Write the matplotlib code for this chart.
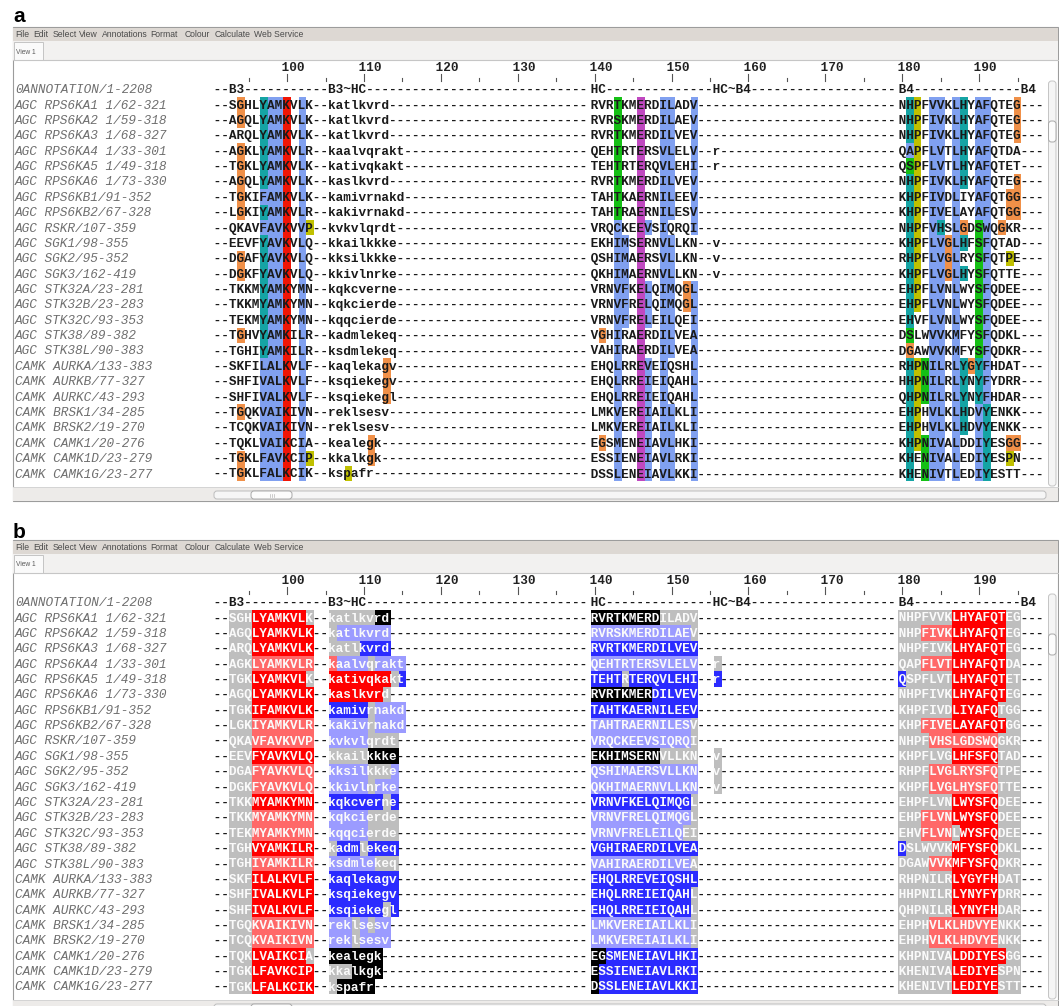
#!/usr/bin/python3

import matplotlib
matplotlib.use('Agg')
import matplotlib.pyplot as plt
from matplotlib.patches import Rectangle, FancyBboxPatch

W, H = 1059, 1006

names = [
    'AGC RPS6KA1 1/62-321', 'AGC RPS6KA2 1/59-318', 'AGC RPS6KA3 1/68-327',
    'AGC RPS6KA4 1/33-301', 'AGC RPS6KA5 1/49-318', 'AGC RPS6KA6 1/73-330',
    'AGC RPS6KB1/91-352', 'AGC RPS6KB2/67-328', 'AGC RSKR/107-359',
    'AGC SGK1/98-355', 'AGC SGK2/95-352', 'AGC SGK3/162-419',
    'AGC STK32A/23-281', 'AGC STK32B/23-283', 'AGC STK32C/93-353',
    'AGC STK38/89-382', 'AGC STK38L/90-383', 'CAMK AURKA/133-383',
    'CAMK AURKB/77-327', 'CAMK AURKC/43-293', 'CAMK BRSK1/34-285',
    'CAMK BRSK2/19-270', 'CAMK CAMK1/20-276', 'CAMK CAMK1D/23-279',
    'CAMK CAMK1G/23-277',
]
annotation_name = '0ANNOTATION/1-2208'

# alignment pieces, starting at column 0, 49 and 89 of the visible window
seg_a = [
    '--SGHLYAMKVLK--katlkvrd', '--AGQLYAMKVLK--katlkvrd', '--ARQLYAMKVLK--katlkvrd',
    '--AGKLYAMKVLR--kaalvqrakt', '--TGKLYAMKVLK--kativqkakt', '--AGQLYAMKVLK--kaslkvrd',
    '--TGKIFAMKVLK--kamivrnakd', '--LGKIYAMKVLR--kakivrnakd', '--QKAVFAVKVVP--kvkvlqrdt',
    '--EEVFYAVKVLQ--kkailkkke', '--DGAFYAVKVLQ--kksilkkke', '--DGKFYAVKVLQ--kkivlnrke',
    '--TKKMYAMKYMN--kqkcverne', '--TKKMYAMKYMN--kqkcierde', '--TEKMYAMKYMN--kqqcierde',
    '--TGHVYAMKILR--kadmlekeq', '--TGHIYAMKILR--ksdmlekeq', '--SKFILALKVLF--kaqlekagv',
    '--SHFIVALKVLF--ksqiekegv', '--SHFIVALKVLF--ksqiekegl', '--TGQKVAIKIVN--reklsesv',
    '--TCQKVAIKIVN--reklsesv', '--TQKLVAIKCIA--kealegk', '--TGKLFAVKCIP--kkalkgk',
    '--TGKLFALKCIK--kspafr',
]
seg_b = [
    'RVRTKMERDILADV', 'RVRSKMERDILAEV', 'RVRTKMERDILVEV', 'QEHTRTERSVLELV--r',
    'TEHTRTERQVLEHI--r', 'RVRTKMERDILVEV', 'TAHTKAERNILEEV', 'TAHTRAERNILESV',
    'VRQCKEEVSIQRQI', 'EKHIMSERNVLLKN--v', 'QSHIMAERSVLLKN--v', 'QKHIMAERNVLLKN--v',
    'VRNVFKELQIMQGL', 'VRNVFRELQIMQGL', 'VRNVFRELEILQEI', 'VGHIRAERDILVEA',
    'VAHIRAERDILVEA', 'EHQLRREVEIQSHL', 'EHQLRREIEIQAHL', 'EHQLRREIEIQAHL',
    'LMKVEREIAILKLI', 'LMKVEREIAILKLI', 'EGSMENEIAVLHKI', 'ESSIENEIAVLRKI',
    'DSSLENEIAVLKKI',
]
seg_c = [
    'NHPFVVKLHYAFQTEG', 'NHPFIVKLHYAFQTEG', 'NHPFIVKLHYAFQTEG', 'QAPFLVTLHYAFQTDA',
    'QSPFLVTLHYAFQTET', 'NHPFIVKLHYAFQTEG', 'KHPFIVDLIYAFQTGG', 'KHPFIVELAYAFQTGG',
    'NHPFVHSLGDSWQGKR', 'KHPFLVGLHFSFQTAD', 'RHPFLVGLRYSFQTPE', 'KHPFLVGLHYSFQTTE',
    'EHPFLVNLWYSFQDEE', 'EHPFLVNLWYSFQDEE', 'EHVFLVNLWYSFQDEE', 'DSLWVVKMFYSFQDKL',
    'DGAWVVKMFYSFQDKR', 'RHPNILRLYGYFHDAT', 'HHPNILRLYNYFYDRR', 'QHPNILRLYNYFHDAR',
    'EHPHVLKLHDVYENKK', 'EHPHVLKLHDVYENKK', 'KHPNIVALDDIYESGG', 'KHENIVALEDIYESPN',
    'KHENIVTLEDIYESTT',
]

# panel a: Clustal colour classes
clustal_a = [
    '...o..cbbr.b', '...o..cbbr.b', '......cbbr.b', '...o..cbbr.b', '...o..cbbr.b',
    '...o..cbbr.b', '...o..bbbr.b', '...o..cbbr.b', '......bbbr.by', '......cbbr.b',
    '...o..cbbr.b', '...o..cbbr.b', '......cbbr.b', '......cbbr.b', '......cbbr.b',
    '...o..cbbr.b', '......cbbr.b', '......bbbr.b..........o', '......bbbr.b..........o',
    '......bbbr.b..........o', '...o..bbbr.b', '......bbbr.b', '......bbbr.b........o',
    '...o..bbbr.by.......o', '...o..bbbr.b.....y',
]
clustal_b = [
    '...g..m..bb..b', '...g..m..bb..b', '...g..m..bb..b', '...g..m..bb..b',
    '...g..m..bb..b', '...g..m..bb..b', '...g..m..bb..b', '...g..m..bb..b',
    '...b..mb.b...b', '...bb.m..bb...', '...bb.m..bb...', '...bb.m..bb...',
    '...bb.mb.bb.ob', '...bb.mb.bb.ob', '...bb.mb.bb..b', '.o.b..m..bb..b',
    '...b..m..bb..b', '...b..mb.b...b', '...b..mb.b...b', '...b..mb.b...b',
    '...b..mb.bb..b', '...b..mb.bb..b', '.o.b..mb.bb..b', '...b..mb.bb..b',
    '...b..mb.bb..b',
]
clustal_c = [
    '.cy.bb.bc.bb...o', '.cy.bb.bc.bb...o', '.cy.bb.bc.bb...o', '.by.bb.bc.bb....',
    '.gy.bb.bc.bb....', '.cy.bb.bc.bb...o', '.cy.bb.b..bb..oo', '.cy.bb.b..bb..oo',
    '.cy.bc.bo.gb.o..', '.cy.bbobc.gb....', '.cy.bbob..gb..y.', '.cy.bbobc.gb....',
    '.cy.bb.b..gb....', '.cy.bb.b..gb....', '.c..bb.b..gb....', '.g..bb.b..gb....',
    '.o..bb.b..gb....', '.cygbb.bcocb....', '.cygbb.bc.cb....', '.cygbb.bc.cb....',
    '.cy.bb.bc.bc....', '.cy.bb.bc.bc....', '.cygbb.b..bc..oo', '.c.gbb.b..bc..y.',
    '.c.gbb.b..bc....',
]

# panel b: shading classes
shade_a = [
    '..gggRRRRRRRg..ggggggkk', '..gggRRRRRRRR..gbbbbbbb', '..gggRRRRRRRR..ggggBBBB',
    '..gggrrrrrrrr..rbbbbgbbbb', '..gggRRRRRRRg..RRRRRRRRgB', '..gggRRRRRRRR..RRRRRRRg',
    '..gggRRRRRRRR..BBBBBgbbbb', '..gggrrrrrrrr..bbbbbgbbbb', '..gggrrrrrrrr..bbbbbgggg',
    '..gggRRRRRRRR..gggggkkkk', '..gggrrrrrrrr..bbbbbgggb', '..gggrrrrrrrr..bbbbbgbbb',
    '..gggRRRRRRRR..BBBBBBBgB', '..gggrrrrrrrr..bbbbbgggg', '..gggrrrrrrrr..bbbbbgggg',
    '..gggRRRRRRRR..gBBBgBBBB', '..gggrrrrrrrr..bbbbbbggg', '..gggRRRRRRRR..BBBBBBBBB',
    '..gggRRRRRRRR..BBBBBBBBB', '..gggRRRRRRRR..BBBBBBBgB', '..gggrrrrrrrr..bbbgbgbb',
    '..gggrrrrrrrr..bbbgbbbb', '..gggRRRRRRRg..kkkkkkk', '..gggRRRRRRRR..gggkkkk',
    '..gggRRRRRRRR..gkkkkk',
]
shade_b = [
    'kkkkkkkkkggggg', 'bbbbbbbbbbbbbg', 'BBBBBBBBBBBBBB', 'bbbbbbbbbbbbbb..g',
    'BBBBgBBBBBBBBB..B', 'kkkkkkkkBBBBBB', 'BBBBBBBBBBBBBB', 'bbbbbbbbbbbbbg',
    'bbbbbbbbbbbbbg', 'kkkkkkkkkggggg..g', 'bbbbbbbbbbbbbb..g', 'bbbbbbbbbbbbbb..g',
    'BBBBBBBBBBBBBg', 'bbbbbbbbbbbbbg', 'bbbbbbbbbbbbgg', 'BBBBBBBBBBBBBB',
    'bbbbbbbbbbbbbg', 'BBBBBBBBBBBBBB', 'BBBBBBBBBBBBBg', 'BBBBBBBBBBBBBg',
    'bbbbbbbbbbbbbg', 'bbbbbbbbbbbbbg', 'kkBBBBBBBBBBBB', 'kBBBBBBBBBBBBB',
    'kBBBBBBBBBBBBB',
]
shade_c = [
    'gggggggRRRRRRRgg', 'gggrrrrRRRRRRRgg', 'gggggggRRRRRRRgg', 'gggrrrrRRRRRRRgg',
    'BggggggRRRRRRRgg', 'gggggggRRRRRRRgg', 'gggggggRRRRRRggg', 'gggrrrrRRRRRRRgg',
    'ggggrrrrrrrrrggg', 'gggggggRRRRRRggg', 'ggggrrrrrrrrrggg', 'ggggrrrrrrrrrggg',
    'gggggggRRRRRRggg', 'gggrrrrRRRRRRggg', 'gggrrrrgRRRRRggg', 'BggggggRRRRRRggg',
    'ggggrrrRRRRRRggg', 'gggggggRRRRRRggg', 'gggggggRRRRRRggg', 'gggggggRRRRRRggg',
    'ggggrrrrrrrrrggg', 'ggggrrrrrrrrrggg', 'gggggggRRRRRRRgg', 'gggggggRRRRRRggg',
    'gggggggRRRRRRggg',
]

annotation_labels = [(2, 'B3'), (15, 'B3~HC'), (49, 'HC'), (65, 'HC~B4'), (89, 'B4'), (105, 'B4')]
ruler_major = [100, 110, 120, 130, 140, 150, 160, 170, 180, 190]
ruler_minor = [95, 105, 115, 125, 135, 145, 155, 165, 175, 185, 195]
menu_items = ['File', 'Edit', 'Select', 'View', 'Annotations', 'Format', 'Colour',
              'Calculate', 'Web Service']

FIRST_POS = 91          # alignment column drawn at window column 0
START_B, START_C = 49, 89
ROW_LEN, ANN_LEN = 108, 107

clustal_colours = {'o': '#F09048', 'c': '#15A4A4', 'b': '#80A0F0', 'r': '#F01505',
                   'g': '#15C015', 'm': '#C048C0', 'y': '#C0C000'}
shade_colours = {'g': '#BEBEBE', 'R': '#FF0000', 'r': '#FF6868', 'B': '#2B2BFF',
                 'b': '#9B9BFF', 'k': '#000000'}

# geometry (pixels)
X0 = 214.0
CW = 7.69
PITCH = 15.375
ROW1_Y = 104.6
BASE_OFF = 3.9
SEQ_FONT = dict(family='Liberation Mono', weight='bold', size=CW * 72 / 60.0)
NAME_FONT = dict(family='Liberation Mono', style='italic', size=9.15)
menu_x = [15.2, 33.0, 52.3, 79.3, 101.9, 150.0, 185.0, 215.0, 253.7]


def col_x(i):
    return X0 + i * CW


def fill_row(parts, fill, n):
    row = list(fill * n)
    for start, s in parts:
        row[start:start + len(s)] = list(s)
    return ''.join(row[:n])


def runs(mask, code):
    out, i = [], 0
    while i < len(mask):
        if mask[i] == code:
            j = i
            while j < len(mask) and mask[j] == code:
                j += 1
            out.append((col_x(i), (j - i) * CW))
            i = j
        else:
            i += 1
    return out


fig = plt.figure(figsize=(W / 100, H / 100), dpi=100)
ax = fig.add_axes([0, 0, 1, 1])
ax.set_xlim(0, W)
ax.set_ylim(H, 0)
ax.axis('off')


def put_seq(text, yc, colour):
    for s0, s1 in ((0, START_B), (START_B, START_C), (START_C, len(text))):
        piece = text[s0:s1]
        if not piece.strip():
            continue
        # leading space keeps matplotlib from trimming to the first ink
        ax.text(col_x(s0) - CW, yc + BASE_OFF, ' ' + piece, ha='left', va='baseline',
                color=colour, **SEQ_FONT)


def draw_chrome(dy):
    ax.add_patch(Rectangle((12.5, 27 + dy), 1045.5, 474, fc='white', ec='#9C9C9C', lw=0.8))
    ax.add_patch(Rectangle((13, 27.5 + dy), 1044.5, 13.5, fc='#DDD8D3', lw=0))
    ax.add_patch(Rectangle((13, 41 + dy), 1044.5, 19, fc='#F2F1F0', lw=0))
    ax.plot([13, 1057.5], [60 + dy, 60 + dy], color='#C6C6C6', lw=0.8)
    ax.add_patch(Rectangle((13.5, 42 + dy), 29.7, 18, fc='#FAFAFA', ec='#C4C4C4', lw=0.7))
    for x, word in zip(menu_x, menu_items):
        ax.text(x, 34.3 + dy, word, ha='left', va='center', family='Liberation Sans',
                size=6.2, color='#4A4A4A')
    ax.text(16.2, 52 + dy, 'View 1', ha='left', va='center', family='Liberation Sans',
            size=4.8, color='#5A5A5A')
    # bottom strip and scrollbars
    ax.add_patch(Rectangle((13, 487 + dy), 1044.5, 13.5, fc='#EDEBE9', lw=0))
    ax.plot([13, 1057.5], [487 + dy, 487 + dy], color='#D0D0D0', lw=0.6)
    ax.add_patch(FancyBboxPatch((214, 491 + dy), 832, 8, boxstyle='round,pad=0,rounding_size=3',
                                fc='#F6F6F6', ec='#BDBDBD', lw=0.7))
    ax.add_patch(FancyBboxPatch((251, 491 + dy), 41, 8, boxstyle='round,pad=0,rounding_size=3',
                                fc='#FCFCFC', ec='#A8A8A8', lw=0.7))
    for gx in (269.5, 271.5, 273.5):
        ax.plot([gx, gx], [493.5 + dy, 496.5 + dy], color='#B8B8B8', lw=0.5)
    ax.add_patch(FancyBboxPatch((1048.5, 81 + dy), 7.5, 405, boxstyle='round,pad=0,rounding_size=3',
                                fc='#F5F5F5', ec='#C4C4C4', lw=0.7))
    ax.add_patch(FancyBboxPatch((1048.5, 121 + dy), 7.5, 21, boxstyle='round,pad=0,rounding_size=3',
                                fc='#FCFCFC', ec='#A8A8A8', lw=0.7))


def draw_panel(dy, letter, letter_y, masks, palette, light_text):
    draw_chrome(dy)
    ax.text(13, letter_y, letter, ha='left', va='baseline', family='Liberation Sans',
            weight='bold', size=15, color='black')

    # ruler
    for p in ruler_major:
        tx = X0 + (p - FIRST_POS + 0.5) * CW
        ax.plot([tx, tx], [73.5 + dy, 81 + dy], color='#555555', lw=0.8)
        ax.text(tx - 5 - CW, 71.2 + dy, ' ' + str(p), ha='left', va='baseline',
                color='#222222', **SEQ_FONT)
    for p in ruler_minor:
        tx = X0 + (p - FIRST_POS + 0.5) * CW
        ax.plot([tx, tx], [77.5 + dy, 81 + dy], color='#555555', lw=0.8)

    # annotation row
    ya = ROW1_Y - PITCH + dy
    ann = fill_row(annotation_labels, '-', ANN_LEN)
    ax.text(15, ya + BASE_OFF, annotation_name, ha='left', va='baseline',
            color='#6E6E6E', **NAME_FONT)
    put_seq(ann, ya, '#1A1A1A')

    ma, mb, mc = masks
    for r, name in enumerate(names):
        yc = ROW1_Y + dy + r * PITCH
        seq = fill_row([(0, seg_a[r]), (START_B, seg_b[r]), (START_C, seg_c[r])], '-', ROW_LEN)
        mask = fill_row([(0, ma[r]), (START_B, mb[r]), (START_C, mc[r])], '.', ROW_LEN)
        for code, colour in palette.items():
            spans = runs(mask, code)
            if spans:
                ax.broken_barh(spans, (yc - PITCH / 2, PITCH), facecolors=colour,
                               linewidth=0, antialiased=False)
        ax.text(15, yc + BASE_OFF, name, ha='left', va='baseline', color='#6E6E6E', **NAME_FONT)
        if light_text:
            dark = ''.join(c if m == '.' else ' ' for c, m in zip(seq, mask))
            light = ''.join(c if m != '.' else ' ' for c, m in zip(seq, mask))
            put_seq(dark, yc, '#1A1A1A')
            put_seq(light, yc, '#FAFAFA')
        else:
            put_seq(seq, yc, '#1A1A1A')


draw_panel(0, 'a', 22, (clustal_a, clustal_b, clustal_c), clustal_colours, False)
draw_panel(513, 'b', 538.5, (shade_a, shade_b, shade_c), shade_colours, True)

plt.savefig('out.png', dpi=100)
